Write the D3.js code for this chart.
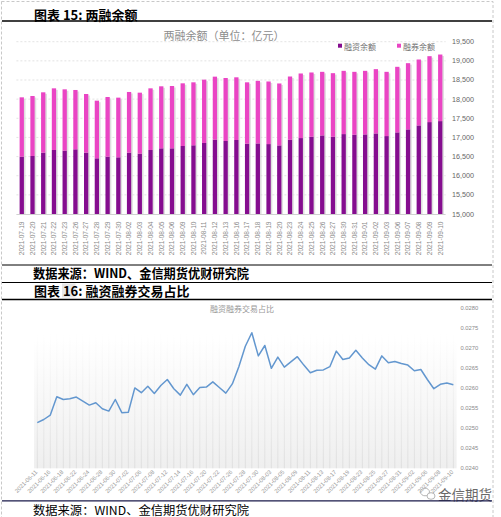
<!DOCTYPE html>
<html><head><meta charset="utf-8">
<script src="https://cdn.jsdelivr.net/npm/d3@7"></script>
<style>
html,body{margin:0;padding:0;background:#fff;}
svg{display:block;}
</style></head>
<body>
<svg id="c" width="501" height="517"></svg>
<script>
// ---------- Chart 15 data ----------
const barDates = ["2021-07-19","2021-07-20","2021-07-21","2021-07-22","2021-07-23","2021-07-26","2021-07-27","2021-07-28","2021-07-29","2021-07-30",
"2021-08-02","2021-08-03","2021-08-04","2021-08-05","2021-08-06","2021-08-09","2021-08-10","2021-08-11","2021-08-12","2021-08-13",
"2021-08-16","2021-08-17","2021-08-18","2021-08-19","2021-08-20","2021-08-23","2021-08-24","2021-08-25","2021-08-26","2021-08-27",
"2021-08-30","2021-08-31","2021-09-01","2021-09-02","2021-09-03","2021-09-06","2021-09-07","2021-09-08","2021-09-09","2021-09-10"];
const financing = [16496,16515,16602,16672,16654,16689,16602,16454,16497,16480,16602,16576,16672,16715,16715,16776,16794,16855,16942,16907,
16933,16837,16843,16826,16791,16939,16983,17017,17052,17017,17087,17070,17078,17104,17035,17131,17209,17313,17400,17426];
const securities = [1551,1567,1576,1610,1602,1550,1532,1506,1559,1559,1585,1593,1610,1620,1628,1637,1645,1654,1645,1645,
1637,1602,1635,1635,1618,1652,1687,1679,1661,1661,1652,1643,1661,1679,1678,1713,1730,1722,1722,1739];
const barYTicks = [15000,15500,16000,16500,17000,17500,18000,18500,19000,19500];
const seriesNames = ["融资余额","融券余额"];

// ---------- Chart 16 data ----------
const lineDates = ["2021-06-11","2021-06-15","2021-06-16","2021-06-17","2021-06-18","2021-06-21","2021-06-22","2021-06-23","2021-06-24","2021-06-25",
"2021-06-28","2021-06-29","2021-06-30","2021-07-01","2021-07-02","2021-07-05","2021-07-06","2021-07-07","2021-07-08","2021-07-09",
"2021-07-12","2021-07-13","2021-07-14","2021-07-15","2021-07-16","2021-07-19","2021-07-20","2021-07-21","2021-07-22","2021-07-23",
"2021-07-26","2021-07-27","2021-07-28","2021-07-29","2021-07-30","2021-08-02","2021-08-03","2021-08-04","2021-08-05","2021-08-06",
"2021-08-09","2021-08-10","2021-08-11","2021-08-12","2021-08-13","2021-08-16","2021-08-17","2021-08-18","2021-08-19","2021-08-20",
"2021-08-23","2021-08-24","2021-08-25","2021-08-26","2021-08-27","2021-08-30","2021-08-31","2021-09-01","2021-09-02","2021-09-03",
"2021-09-06","2021-09-07","2021-09-08","2021-09-09","2021-09-10"];
const ratio = [0.02514,0.02522,0.02533,0.02579,0.02572,0.02574,0.02578,0.02568,0.02558,0.02564,
0.02549,0.02543,0.02572,0.02539,0.02540,0.02601,0.02589,0.02605,0.02587,0.02607,
0.02622,0.02599,0.02583,0.02610,0.02584,0.02602,0.02603,0.02616,0.02602,0.02588,
0.02611,0.02654,0.02705,0.02739,0.02681,0.02707,0.02650,0.02678,0.02653,0.02666,
0.02679,0.02658,0.02639,0.02645,0.02646,0.02654,0.02693,0.02672,0.02676,0.02695,
0.02676,0.02659,0.02648,0.02681,0.02664,0.02667,0.02662,0.02658,0.02644,0.02647,
0.02622,0.02599,0.02610,0.02613,0.02609];
const lineYTicks = [0.0240,0.0245,0.0250,0.0255,0.0260,0.0265,0.0270,0.0275,0.0280];

const svg = d3.select("#c");
const CJK = "'Noto Sans CJK SC','Noto Sans',sans-serif";
const LAT = "'Liberation Sans',Arial,sans-serif";

// defs
const defs = svg.append("defs");
const g1 = defs.append("linearGradient").attr("id","bgGrad").attr("gradientUnits","userSpaceOnUse")
  .attr("x1",0).attr("y1",308).attr("x2",0).attr("y2",468);
g1.append("stop").attr("offset","0").attr("stop-color","#ffffff");
g1.append("stop").attr("offset","0.2").attr("stop-color","#ffffff");
g1.append("stop").attr("offset","1").attr("stop-color","#efefef");
const g2 = defs.append("linearGradient").attr("id","gridGrad").attr("gradientUnits","userSpaceOnUse")
  .attr("x1",0).attr("y1",308).attr("x2",0).attr("y2",468);
g2.append("stop").attr("offset","0").attr("stop-color","#ffffff");
g2.append("stop").attr("offset","0.15").attr("stop-color","#ffffff");
g2.append("stop").attr("offset","1").attr("stop-color","#dadada");

// page frame (dashed)
svg.append("rect").attr("x",1.5).attr("y",1.5).attr("width",491.5).attr("height",520)
  .attr("fill","none").attr("stroke","#c8c8c8").attr("stroke-dasharray","3,2").attr("stroke-width",1);

// ---------- Headers ----------
function header(txt, y){
  svg.append("text").attr("x",34).attr("y",y).attr("font-family",CJK).attr("font-weight","bold")
    .attr("font-size",13).attr("fill","#000").attr("dominant-baseline","central").text(txt);
}
header("图表 15: 两融余额", 14);
svg.append("line").attr("x1",2).attr("x2",492).attr("y1",21).attr("y2",21).attr("stroke","#000").attr("stroke-width",1.5);

// ---------- Chart 15 ----------
const xb = d3.scaleBand().domain(barDates).range([16.4,445.6]).paddingInner(0.6).paddingOuter(0.3);
const yb = d3.scaleLinear().domain([15000,19500]).range([214,41.7]);

// gridlines
svg.append("g").selectAll("line").data(barYTicks.slice(1)).join("line")
  .attr("x1",16.4).attr("x2",445.6).attr("y1",d=>yb(d)).attr("y2",d=>yb(d))
  .attr("stroke","#dcdcdc").attr("stroke-width",0.8).attr("stroke-dasharray","2,2");

// title & legend
svg.append("text").attr("x",224).attr("y",34.5).attr("text-anchor","middle").attr("dominant-baseline","central")
  .attr("font-family",CJK).attr("font-size",11).attr("fill","#8c8c8c").text("两融余额（单位：亿元）");

const barColors = ["#850d8f","#ea45c4"];
const stackData = barDates.map((d,i)=>({date:d, f:financing[i], s:securities[i]}));

// shadows
svg.append("g").selectAll("rect").data(stackData).join("rect")
  .attr("x",d=>xb(d.date)+1.6).attr("width",xb.bandwidth())
  .attr("y",d=>yb(d.f+d.s)+1.5).attr("height",d=>yb(15000)-yb(d.f+d.s)-1.5)
  .attr("fill","#d7d7d7").attr("opacity",0.8);
// financing
svg.append("g").selectAll("rect").data(stackData).join("rect")
  .attr("x",d=>xb(d.date)).attr("width",xb.bandwidth())
  .attr("y",d=>yb(d.f)).attr("height",d=>yb(15000)-yb(d.f)).attr("fill",barColors[0]);
// securities
svg.append("g").selectAll("rect").data(stackData).join("rect")
  .attr("x",d=>xb(d.date)).attr("width",xb.bandwidth())
  .attr("y",d=>yb(d.f+d.s)).attr("height",d=>yb(d.f)-yb(d.f+d.s)).attr("fill",barColors[1]);

// baseline
svg.append("line").attr("x1",16.4).attr("x2",445.6).attr("y1",214.5).attr("y2",214.5).attr("stroke","#d0d0d0");

// legend
const lg = svg.append("g");
[[338,seriesNames[0]],[397,seriesNames[1]]].forEach((p,i)=>{
  lg.append("rect").attr("x",p[0]).attr("y",43.7).attr("width",4).attr("height",4).attr("fill",barColors[i]);
  lg.append("text").attr("x",p[0]+6).attr("y",46).attr("dominant-baseline","central")
    .attr("font-family",CJK).attr("font-size",8).attr("fill","#707070").text(p[1]);
});

// y axis labels
svg.append("g").selectAll("text").data(barYTicks).join("text")
  .attr("x",452).attr("y",d=>yb(d)).attr("dominant-baseline","central")
  .attr("font-family",LAT).attr("font-size",7.2).attr("fill","#666")
  .text(d=>d3.format(",")(d));

// x labels
svg.append("g").selectAll("text").data(barDates).join("text")
  .attr("transform",d=>`translate(${xb(d)+xb.bandwidth()/2+2.3},221.5) rotate(-90)`)
  .attr("text-anchor","end").attr("font-family",LAT).attr("font-size",6.6).attr("fill","#8a8a8a")
  .text(d=>d);

// source 1
svg.append("line").attr("x1",2).attr("x2",492).attr("y1",265).attr("y2",265).attr("stroke","#000").attr("stroke-width",1);
svg.append("text").attr("x",33).attr("y",272).attr("font-family",CJK).attr("font-weight","bold")
  .attr("font-size",12.8).attr("dominant-baseline","central").attr("fill","#000")
  .attr("textLength",216).attr("lengthAdjust","spacingAndGlyphs").text("数据来源：WIND、金信期货优财研究院");
svg.append("line").attr("x1",2).attr("x2",492).attr("y1",282.5).attr("y2",282.5).attr("stroke","#000").attr("stroke-width",1);

// header 16
svg.append("rect").attr("x",62).attr("y",283.5).attr("width",13.5).attr("height",14).attr("fill","#e6e6e6");
header("图表 16: 融资融券交易占比", 290.5);
svg.append("line").attr("x1",2).attr("x2",492).attr("y1",299.5).attr("y2",299.5).attr("stroke","#000").attr("stroke-width",1.3);

// ---------- Chart 16 ----------
const xl = d3.scalePoint().domain(lineDates).range([34.05,456.6]).padding(0.5);
const yl = d3.scaleLinear().domain([0.024,0.028]).range([468.3,308.3]);

svg.append("rect").attr("x",34.05).attr("y",308.3).attr("width",422.55).attr("height",160).attr("fill","url(#bgGrad)");
svg.append("g").selectAll("line").data(lineDates).join("line")
  .attr("x1",d=>xl(d)).attr("x2",d=>xl(d)).attr("y1",308.3).attr("y2",468.3)
  .attr("stroke","url(#gridGrad)").attr("stroke-width",0.8);

svg.append("text").attr("x",242).attr("y",308.5).attr("text-anchor","middle").attr("dominant-baseline","central")
  .attr("font-family",CJK).attr("font-size",8).attr("fill","#999").text("融资融券交易占比");

const lineData = lineDates.map((d,i)=>({d, v:ratio[i]}));
svg.append("path").datum(lineData)
  .attr("d", d3.line().x(p=>xl(p.d)).y(p=>yl(p.v)))
  .attr("fill","none").attr("stroke","#6397cf").attr("stroke-width",1.5).attr("stroke-linejoin","round");

svg.append("g").selectAll("text").data(lineYTicks).join("text")
  .attr("x",460.5).attr("y",d=>yl(d)).attr("dominant-baseline","central")
  .attr("font-family",LAT).attr("font-size",5.8).attr("fill","#8a8a8a")
  .text(d=>d.toFixed(4));

svg.append("g").selectAll("text").data(lineDates.filter((d,i)=>i%2===0)).join("text")
  .attr("transform",d=>`translate(${xl(d)+0.5},472.5) rotate(-45)`)
  .attr("text-anchor","end").attr("font-family",LAT).attr("font-size",5.8).attr("fill","#9a9a9a")
  .text(d=>d);

// watermark
const wm = svg.append("g");
wm.append("ellipse").attr("cx",425).attr("cy",492).attr("rx",4.5).attr("ry",3.8).attr("fill","none").attr("stroke","#b5b5b5").attr("stroke-width",1);
wm.append("ellipse").attr("cx",431).attr("cy",496).attr("rx",4).attr("ry",3.3).attr("fill","#fff").attr("stroke","#b5b5b5").attr("stroke-width",1);
wm.append("text").attr("x",438).attr("y",494).attr("dominant-baseline","central")
  .attr("font-family",CJK).attr("font-size",13.5).attr("fill","#6a6a6a")
  .attr("stroke","#fff").attr("stroke-width",2).attr("paint-order","stroke").text("金信期货");

// source 2
svg.append("line").attr("x1",2).attr("x2",492).attr("y1",500.8).attr("y2",500.8).attr("stroke","#1a1a4a").attr("stroke-width",1.2);
svg.append("text").attr("x",33).attr("y",509).attr("font-family",CJK)
  .attr("font-size",12).attr("dominant-baseline","central").attr("fill","#000")
  .attr("textLength",216).attr("lengthAdjust","spacingAndGlyphs").text("数据来源：WIND、金信期货优财研究院");
</script>
</body></html>
